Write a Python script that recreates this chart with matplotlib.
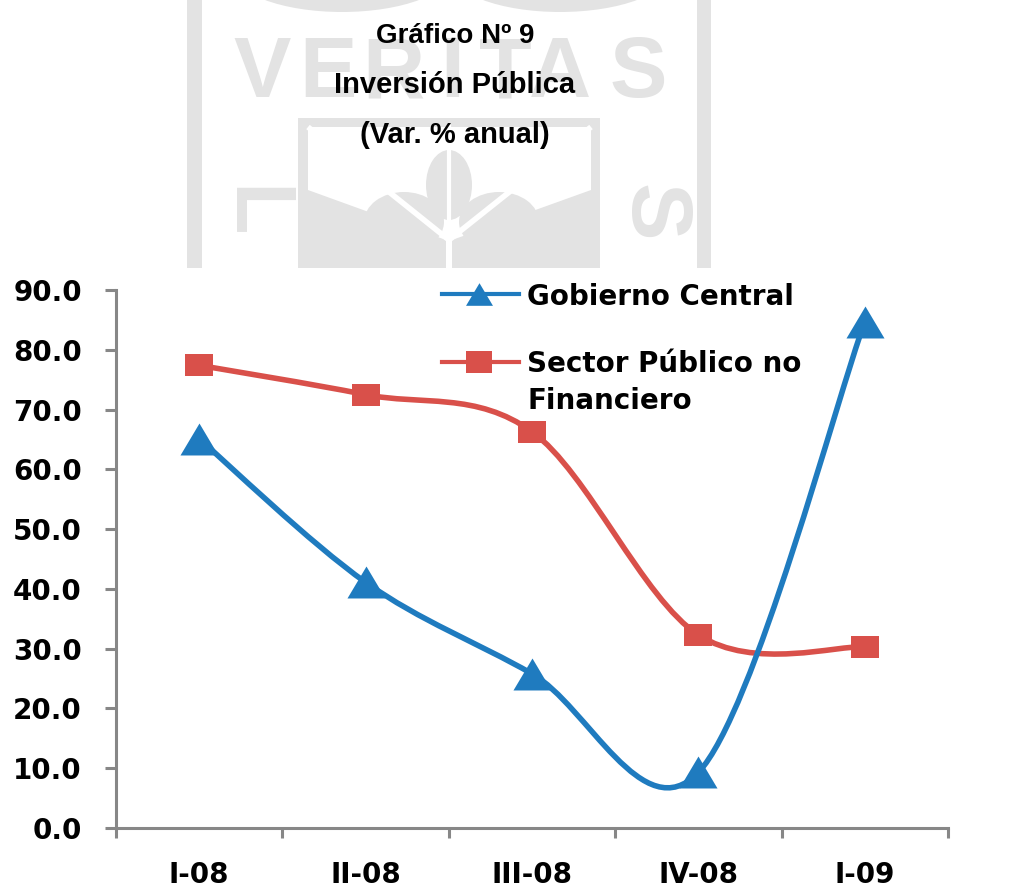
import numpy as np
import matplotlib
matplotlib.use("Agg")
import matplotlib.pyplot as plt
from matplotlib.path import Path
from matplotlib.patches import PathPatch, Rectangle, Ellipse, Polygon
from matplotlib.lines import Line2D

# ---- data -------------------------------------------------------------
quarters = ["I-08", "II-08", "III-08", "IV-08", "I-09"]
gobierno_central = [65.1, 41.1, 25.8, 9.3, 84.7]
sector_publico_nf = [77.4, 72.5, 66.3, 32.3, 30.3]
y_ticks = [0, 10, 20, 30, 40, 50, 60, 70, 80, 90]

title_lines = ["Gráfico Nº 9", "Inversión Pública", "(Var. % anual)"]
label_gc = "Gobierno Central"
label_sp = ["Sector Público no", "Financiero"]

BLUE = "#1f7bbf"
RED = "#d9504a"
AXIS_GREY = "#878787"
MARK_GREY = "#e3e3e3"

W, H, DPI = 1010, 890, 100
fig = plt.figure(figsize=(W / DPI, H / DPI), dpi=DPI)
fig.patch.set_facecolor("white")

# ---- faint background emblem -----------------------------------------
bg = fig.add_axes([0, 0, 1, 1], zorder=-5)
bg.set_xlim(0, W)
bg.set_ylim(H, 0)
bg.axis("off")
bottom = 268
bg.add_patch(Rectangle((187, 0), 15, bottom, color=MARK_GREY, lw=0))
bg.add_patch(Rectangle((697, 0), 14, bottom, color=MARK_GREY, lw=0))
bg.add_patch(Ellipse((342, -30), 220, 84, color=MARK_GREY, lw=0))
bg.add_patch(Ellipse((560, -30), 220, 84, color=MARK_GREY, lw=0))
# inner framed square with diagonal motif
bg.add_patch(Rectangle((298, 118), 302, bottom - 118, color=MARK_GREY, lw=0))
bg.add_patch(Rectangle((308, 127), 283, bottom - 127, color="white", lw=0))
cx, cy = 449, 240
bg.add_patch(Polygon([(308, 190), (308, bottom), (cx - 3, bottom), (cx - 3, cy)],
                     closed=True, color=MARK_GREY, lw=0))
bg.add_patch(Polygon([(591, 190), (591, bottom), (cx + 3, bottom), (cx + 3, cy)],
                     closed=True, color=MARK_GREY, lw=0))
bg.add_patch(Ellipse((cx - 45, 222), 80, 60, color=MARK_GREY, lw=0))
bg.add_patch(Ellipse((cx + 50, 222), 80, 60, color=MARK_GREY, lw=0))
bg.add_patch(Ellipse((cx, 185), 46, 70, color=MARK_GREY, lw=0))
bg.plot([308, cx], [127, cy], color="white", lw=4, solid_capstyle="butt")
bg.plot([591, cx], [127, cy], color="white", lw=4, solid_capstyle="butt")
bg.plot([cx, cx], [127, bottom], color="white", lw=3)

wm_font = ["Liberation Sans Narrow", "Liberation Sans", "DejaVu Sans"]
for ch, xc in zip("VERITAS", [262, 328, 393, 452, 505, 560, 638]):
    bg.text(xc, 97, ch, ha="center", va="baseline", fontsize=62,
            fontweight="bold", color=MARK_GREY, family=wm_font)
bg.text(252, 212, "L", ha="center", va="center", rotation=-90, fontsize=62,
        fontweight="bold", color=MARK_GREY, family=wm_font)
bg.text(652, 213, "S", ha="center", va="center", rotation=-90, fontsize=62,
        fontweight="bold", color=MARK_GREY, family=wm_font)

# ---- title ------------------------------------------------------------
title_font = ["Liberation Sans", "DejaVu Sans"]
for txt, base_y, fs in zip(title_lines, [43, 93, 143], [20, 21, 21]):
    fig.text(455 / W, 1 - base_y / H, txt, ha="center", va="baseline",
             fontsize=fs, fontweight="bold", family=title_font, color="black")

# ---- main axes --------------------------------------------------------
ax_l, ax_r, ax_t, ax_b = 116, 948, 290, 828
ax = fig.add_axes([ax_l / W, 1 - ax_b / H, (ax_r - ax_l) / W, (ax_b - ax_t) / H])
ax.set_facecolor("none")
x = np.arange(len(quarters))
ax.set_xlim(-0.5, len(quarters) - 0.5)
ax.set_ylim(0, 90)

for side in ("top", "right"):
    ax.spines[side].set_visible(False)
for side in ("left", "bottom"):
    ax.spines[side].set_color(AXIS_GREY)
    ax.spines[side].set_linewidth(2.2)

tick_font = dict(family="DejaVu Sans", fontweight="bold", fontsize=20)
ax.set_yticks(y_ticks)
ax.set_yticklabels([f"{v:.1f}" for v in y_ticks], **tick_font)
ax.tick_params(axis="y", direction="out", length=8, width=2.2,
               color=AXIS_GREY, pad=16.5)
ax.set_xticks(x)
ax.set_xticklabels(quarters, **tick_font)
ax.set_xticks(np.arange(-0.5, len(quarters)), minor=True)
ax.tick_params(axis="x", which="major", length=0, pad=24)
ax.tick_params(axis="x", which="minor", direction="out", length=7,
               width=2.2, color=AXIS_GREY)


def smooth_path(xs, ys):
    """Cubic Bezier path through the points, spreadsheet-style smoothing."""
    pts = np.column_stack([xs, ys]).astype(float)
    n = len(pts)
    verts = [pts[0]]
    codes = [Path.MOVETO]
    for i in range(n - 1):
        p0 = pts[i - 1] if i > 0 else pts[i]
        p1, p2 = pts[i], pts[i + 1]
        p3 = pts[i + 2] if i + 2 < n else pts[i + 1]
        verts += [p1 + (p2 - p0) / 6.0, p2 - (p3 - p1) / 6.0, p2]
        codes += [Path.CURVE4] * 3
    return Path(verts, codes)


tri = [(0, 0.84), (-1, -0.84), (1, -0.84)]
sq = [(-1, -0.82), (1, -0.82), (1, 0.82), (-1, 0.82)]

for ys, color, marker, ms in [(sector_publico_nf, RED, sq, 20),
                              (gobierno_central, BLUE, tri, 27.4)]:
    ax.add_patch(PathPatch(smooth_path(x, ys), fill=False, edgecolor=color,
                           lw=4, capstyle="round", joinstyle="round", zorder=3))
    ax.plot(x, ys, linestyle="none", marker=marker, markersize=ms,
            color=color, markeredgewidth=0, zorder=4, clip_on=False)

# ---- legend -----------------------------------------------------------
def px_to_ax(px, py):
    return (px - ax_l) / (ax_r - ax_l), (ax_b - py) / (ax_b - ax_t)


for py, color, marker, ms in [(294, BLUE, tri, 19.4), (362, RED, sq, 18.7)]:
    x0, yy = px_to_ax(442, py)
    x1, _ = px_to_ax(519, py)
    xm, _ = px_to_ax(479, py)
    ax.add_line(Line2D([x0, xm, x1], [yy, yy, yy], transform=ax.transAxes,
                       color=color, lw=3, marker=marker, markersize=ms,
                       markevery=[1], markeredgewidth=0, clip_on=False,
                       zorder=5))

legend_font = dict(family="DejaVu Sans", fontweight="bold", fontsize=20,
                   color="black")
for txt, base_y in [(label_gc, 305), (label_sp[0], 372), (label_sp[1], 409)]:
    tx, ty = px_to_ax(527, base_y)
    ax.text(tx, ty, txt, transform=ax.transAxes, ha="left", va="baseline",
            **legend_font)

fig.savefig("out.png", dpi=DPI, facecolor="white")
